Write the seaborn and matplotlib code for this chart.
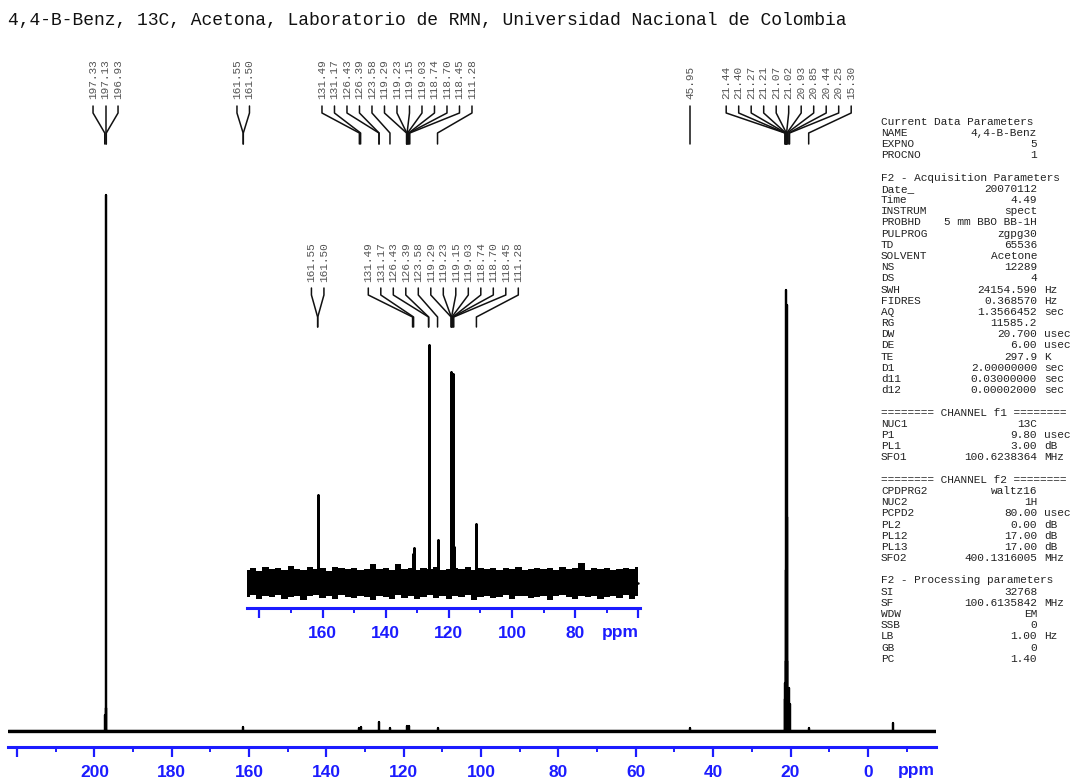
import numpy as np
import pandas as pd
import matplotlib
matplotlib.use("Agg")
import matplotlib.pyplot as plt
import matplotlib.transforms as mtransforms
import seaborn as sns

W, H = 1073, 781
BLUE = '#1c1cff'
MONO = 'Liberation Mono'

title = "4,4-B-Benz, 13C, Acetona, Laboratorio de RMN, Universidad Nacional de Colombia"

# espectro completo: picos (ppm) e intensidad relativa (197.13 = 100)
main_ppm = [197.33, 197.13, 196.93, 161.55, 131.49, 131.17, 126.43, 123.58,
            119.29, 118.74, 111.28, 45.95, 21.44, 21.40, 21.27, 21.21, 21.07,
            21.02, 20.93, 20.85, 20.44, 20.25, 15.30, -6.5]
main_int = [3.0, 100.0, 4.3, 0.7, 0.6, 0.7, 1.6, 0.6,
            1.0, 1.0, 0.5, 0.6, 6.0, 9.0, 13.0, 30.0, 82.3,
            79.5, 40.0, 13.0, 8.0, 5.0, 0.6, 1.5]

# ampliacion 60-184 ppm (126.43 = 100)
inset_ppm = [161.55, 161.50, 131.49, 131.17, 126.43, 126.39, 123.58, 119.29,
             119.23, 119.15, 119.03, 118.74, 118.70, 118.45, 111.28]
inset_int = [37.0, 25.0, 12.0, 14.5, 100.0, 96.0, 18.0, 88.8,
             60.0, 40.0, 30.0, 87.6, 60.0, 15.0, 24.7]

# banda de ruido de la ampliacion (bordes leidos cada 2 ppm, de 184 a 60)
noise_ppm = list(range(184, 58, -2))
noise_top = [5.4, 6.2, 5.0, 6.7, 5.6, 6.0, 5.3, 6.9, 5.8, 5.2, 6.4, 5.7, 6.1,
             4.9, 6.6, 5.9, 5.5, 6.3, 5.1, 5.8, 7.9, 5.6, 6.0, 5.4, 7.6, 5.7,
             6.2, 5.3, 5.9, 5.6, 6.4, 5.2, 5.8, 6.1, 5.5, 6.7, 5.4, 6.0, 5.7,
             6.3, 5.1, 5.9, 5.6, 6.4, 5.3, 5.8, 6.2, 5.5, 6.0, 5.2, 6.6, 5.7,
             5.9, 8.2, 5.4, 6.1, 5.6, 6.3, 5.3, 5.8, 6.0, 5.5, 6.7]
noise_bot = [-6.0, -5.4, -7.1, -5.7, -6.3, -5.2, -6.8, -5.9, -5.5, -7.4, -5.8,
             -5.3, -6.6, -5.7, -7.0, -5.4, -6.1, -6.7, -5.6, -6.2, -7.2, -5.5,
             -5.9, -6.8, -5.3, -6.4, -5.7, -7.1, -6.0, -5.4, -6.5, -5.8, -6.9,
             -5.6, -6.2, -5.3, -7.3, -5.9, -5.7, -6.6, -6.1, -5.4, -7.0, -5.8,
             -5.5, -6.7, -6.0, -5.6, -7.2, -5.8, -5.4, -6.3, -6.9, -5.7, -6.1,
             -5.5, -6.8, -5.9, -5.6, -6.4, -5.3, -7.1, -5.8]

# etiquetas de picos
main_groups = [
    [197.33, 197.13, 196.93],
    [161.55, 161.50],
    [131.49, 131.17, 126.43, 126.39, 123.58, 119.29, 119.23, 119.15, 119.03,
     118.74, 118.70, 118.45, 111.28],
    [45.95],
    [21.44, 21.40, 21.27, 21.21, 21.07, 21.02, 20.93, 20.85, 20.44, 20.25, 15.30],
]
inset_groups = [
    [161.55, 161.50],
    [131.49, 131.17, 126.43, 126.39, 123.58, 119.29, 119.23, 119.15, 119.03,
     118.74, 118.70, 118.45, 111.28],
]

panel_rows = [
    "Current Data Parameters",
    ("NAME", "4,4-B-Benz", ""),
    ("EXPNO", "5", ""),
    ("PROCNO", "1", ""),
    None,
    "F2 - Acquisition Parameters",
    ("Date_", "20070112", ""),
    ("Time", "4.49", ""),
    ("INSTRUM", "spect", ""),
    ("PROBHD", "5 mm BBO BB-1H", ""),
    ("PULPROG", "zgpg30", ""),
    ("TD", "65536", ""),
    ("SOLVENT", "Acetone", ""),
    ("NS", "12289", ""),
    ("DS", "4", ""),
    ("SWH", "24154.590", "Hz"),
    ("FIDRES", "0.368570", "Hz"),
    ("AQ", "1.3566452", "sec"),
    ("RG", "11585.2", ""),
    ("DW", "20.700", "usec"),
    ("DE", "6.00", "usec"),
    ("TE", "297.9", "K"),
    ("D1", "2.00000000", "sec"),
    ("d11", "0.03000000", "sec"),
    ("d12", "0.00002000", "sec"),
    None,
    "======== CHANNEL f1 ========",
    ("NUC1", "13C", ""),
    ("P1", "9.80", "usec"),
    ("PL1", "3.00", "dB"),
    ("SFO1", "100.6238364", "MHz"),
    None,
    "======== CHANNEL f2 ========",
    ("CPDPRG2", "waltz16", ""),
    ("NUC2", "1H", ""),
    ("PCPD2", "80.00", "usec"),
    ("PL2", "0.00", "dB"),
    ("PL12", "17.00", "dB"),
    ("PL13", "17.00", "dB"),
    ("SFO2", "400.1316005", "MHz"),
    None,
    "F2 - Processing parameters",
    ("SI", "32768", ""),
    ("SF", "100.6135842", "MHz"),
    ("WDW", "EM", ""),
    ("SSB", "0", ""),
    ("LB", "1.00", "Hz"),
    ("GB", "0", ""),
    ("PC", "1.40", ""),
]

sns.set_theme(style="white")
plt.rcParams['font.family'] = ['Liberation Sans', 'DejaVu Sans']

fig = plt.figure(figsize=(W / 100, H / 100), dpi=100)


def fx(px):
    return px / W


def fy(py):
    return 1 - py / H


def axes_px(left, right, top, bottom):
    a = fig.add_axes([fx(left), fy(bottom), (right - left) / W, (bottom - top) / H])
    a.patch.set_alpha(0)
    return a


def stick_frame(ppm, inten, hi, lo):
    # traza del espectro: linea base con cada pico como una linea vertical
    order = np.argsort(ppm)[::-1]
    xs, ys = [hi], [0.0]
    for i in order:
        xs += [ppm[i]] * 3
        ys += [0.0, inten[i], 0.0]
    xs.append(lo)
    ys.append(0.0)
    return pd.DataFrame({'ppm': xs, 'intensity': ys})


def style_axis(a, xlim, labelled, ylim):
    a.set_xlim(*xlim)
    a.set_ylim(*ylim)
    for s in ['top', 'left', 'right']:
        a.spines[s].set_visible(False)
    a.spines['bottom'].set_color(BLUE)
    a.spines['bottom'].set_linewidth(2.2)
    a.set_yticks([])
    majors = np.arange(np.ceil(min(xlim) / 20) * 20, max(xlim) + 0.1, 20)
    minors = np.arange(np.ceil(min(xlim) / 10) * 10, max(xlim) + 0.1, 10)
    minors = [m for m in minors if m % 20 != 0]
    a.set_xticks(majors)
    a.set_xticks(minors, minor=True)
    a.set_xticklabels([str(int(round(m))) if labelled[0] <= m <= labelled[1] else ""
                       for m in majors], fontweight='bold')
    a.tick_params(axis='x', which='major', direction='out', length=7, width=1.6,
                  color=BLUE, labelcolor=BLUE, labelsize=12.5, pad=6, bottom=True)
    a.tick_params(axis='x', which='minor', direction='out', length=3.5, width=1.4,
                  color=BLUE, bottom=True)
    a.set_xlabel('')
    a.set_ylabel('')
    a.grid(False)


def annotate(a, groups, spacing_px, px_per_ppm, y_text, y1, y2, y3, y4):
    trans = mtransforms.blended_transform_factory(a.transData, fig.transFigure)
    step = spacing_px / px_per_ppm
    for g in groups:
        c = np.mean(g)
        n = len(g)
        for i, p in enumerate(g):
            lx = c + ((n - 1) / 2 - i) * step
            a.text(lx, fy(y_text), f"{p:.2f}", rotation=90, ha='center', va='bottom',
                   transform=trans, family=MONO, fontsize=8, color='#555555')
            a.plot([lx, lx, p, p], [fy(y1), fy(y2), fy(y3), fy(y4)], transform=trans,
                   color='#111111', lw=1.1, clip_on=False)


# ---- espectro principal ----
main_xlim = (222.3, -17.7)
ax = axes_px(8.2, 936.3, 40, 747)
unit = (731 - 195) / 100
main_ylim = (-(747 - 731) / unit, (731 - 40) / unit)
sns.lineplot(data=stick_frame(main_ppm, main_int, *main_xlim), x='ppm', y='intensity',
             sort=False, estimator=None, color='black', lw=1.6, ax=ax)
ax.axhline(0, color='black', lw=2.4)
style_axis(ax, main_xlim, (0, 200), main_ylim)
annotate(ax, main_groups, 12.5, (936.3 - 8.2) / 240.0, 99, 106, 113, 133, 144)
fig.text(fx(916), fy(771), "ppm", color=BLUE, fontsize=12.5, fontweight='bold',
         ha='center', va='center')

# ---- ampliacion ----
ins_xlim = (183.9, 59.5)
axi = axes_px(247, 640, 235, 608)
unit_i = 2.375
ins_ylim = (-(608 - 582.5) / unit_i, (582.5 - 235) / unit_i)
axi.fill_between(noise_ppm, noise_bot, noise_top, step='mid', color='black', lw=0)
sns.lineplot(data=stick_frame(inset_ppm, inset_int, 184.0, 60.0), x='ppm', y='intensity',
             sort=False, estimator=None, color='black', lw=1.8, ax=axi)
style_axis(axi, ins_xlim, (80, 160), ins_ylim)
annotate(axi, inset_groups, 12.5, (640 - 247) / (183.9 - 59.5), 282, 288, 295, 317, 327)
fig.text(fx(620), fy(632), "ppm", color=BLUE, fontsize=12.5, fontweight='bold',
         ha='center', va='center')

# ---- titulo y parametros ----
fig.text(fx(8), fy(20), title, family=MONO, fontsize=13, va='center', color='#111111')

for k, row in enumerate(panel_rows):
    y = fy(121.7 + 11.19 * k)
    if row is None:
        continue
    if isinstance(row, str):
        fig.text(fx(881), y, row, family=MONO, fontsize=8, va='center', color='#222222')
        continue
    name, val, u = row
    fig.text(fx(881), y, name, family=MONO, fontsize=8, va='center', color='#222222')
    fig.text(fx(1037), y, val, family=MONO, fontsize=8, va='center', ha='right',
             color='#222222')
    if u:
        fig.text(fx(1044), y, u, family=MONO, fontsize=8, va='center', color='#222222')

fig.savefig('out.png', dpi=100)
